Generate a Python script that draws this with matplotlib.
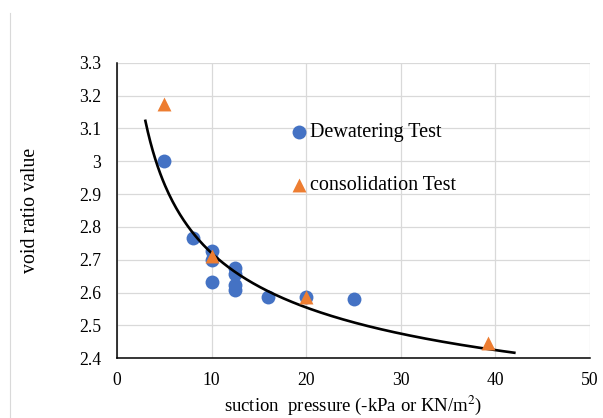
import matplotlib
matplotlib.use("Agg")
import matplotlib.pyplot as plt
import numpy as np
from matplotlib.lines import Line2D

plt.rcParams['font.family'] = ['Liberation Serif', 'DejaVu Serif']
plt.rcParams['mathtext.fontset'] = 'stix'

# Data
dew_x = [5, 8, 10, 10, 10, 12.5, 12.5, 12.5, 12.5, 16, 20, 25]
dew_y = [3.0, 2.765, 2.727, 2.699, 2.633, 2.676, 2.656, 2.623, 2.608, 2.588, 2.588, 2.58]
con_x = [5, 10, 20, 39.2]
con_y = [3.173, 2.712, 2.588, 2.448]

# Trend curve: y = c + a * x**b, drawn from x=3 to x=42
trend_c, trend_a, trend_b = 1.952, 1.72, -0.35
trend_start, trend_end = 3, 42

x_ticks = [0, 10, 20, 30, 40, 50]
y_ticks = [2.4, 2.5, 2.6, 2.7, 2.8, 2.9, 3.0, 3.1, 3.2, 3.3]
y_labels = ['2.4', '2.5', '2.6', '2.7', '2.8', '2.9', '3', '3.1', '3.2', '3.3']

fig = plt.figure(figsize=(6.03, 4.18), dpi=100)
ax = fig.add_axes([117/603, 1-358.3/418, (590-117)/603, (358.3-62.7)/418])

xt = np.linspace(trend_start, trend_end, 300)
yt = trend_c + trend_a * xt ** trend_b

ax.plot(xt, yt, color='black', lw=1.9, zorder=4)
ax.scatter(dew_x, dew_y, s=100, color='#4472C4', marker='o', zorder=3, label='Dewatering Test', linewidths=0)
ax.scatter(con_x, con_y, s=100, color='#ED7D31', marker='^', zorder=5, label='consolidation Test', linewidths=0)

ax.set_xlim(0, 50)
ax.set_ylim(2.4, 3.3)
ax.set_xticks(x_ticks)
ax.set_yticks(y_ticks)
ax.set_yticklabels(y_labels)
ax.grid(True, color='#D9D9D9', lw=0.9, zorder=0)
ax.set_axisbelow(True)
for s in ['top', 'right']:
    ax.spines[s].set_visible(False)
for s in ['left', 'bottom']:
    ax.spines[s].set_color('black')
    ax.spines[s].set_linewidth(1.1)
ax.tick_params(length=0, labelsize=12.7)
ax.tick_params(axis='x', pad=10)
ax.tick_params(axis='y', pad=11.5)

ax.set_xlabel('suction  pressure (-kPa or KN/m$^2$)', fontsize=13.5, labelpad=3)
ax.set_ylabel('void ratio value', fontsize=14.3, labelpad=28)

leg = ax.legend(loc='upper left', bbox_to_anchor=(0.356, 0.823), frameon=False,
                fontsize=14.5, handlelength=0.6, handletextpad=0.22,
                labelspacing=1.67, borderaxespad=0, scatterpoints=1)

fig.add_artist(Line2D([9.5/603, 9.5/603], [0, 1-13/418], color='#D9D9D9', lw=0.8))

fig.savefig('out.png', dpi=100)
